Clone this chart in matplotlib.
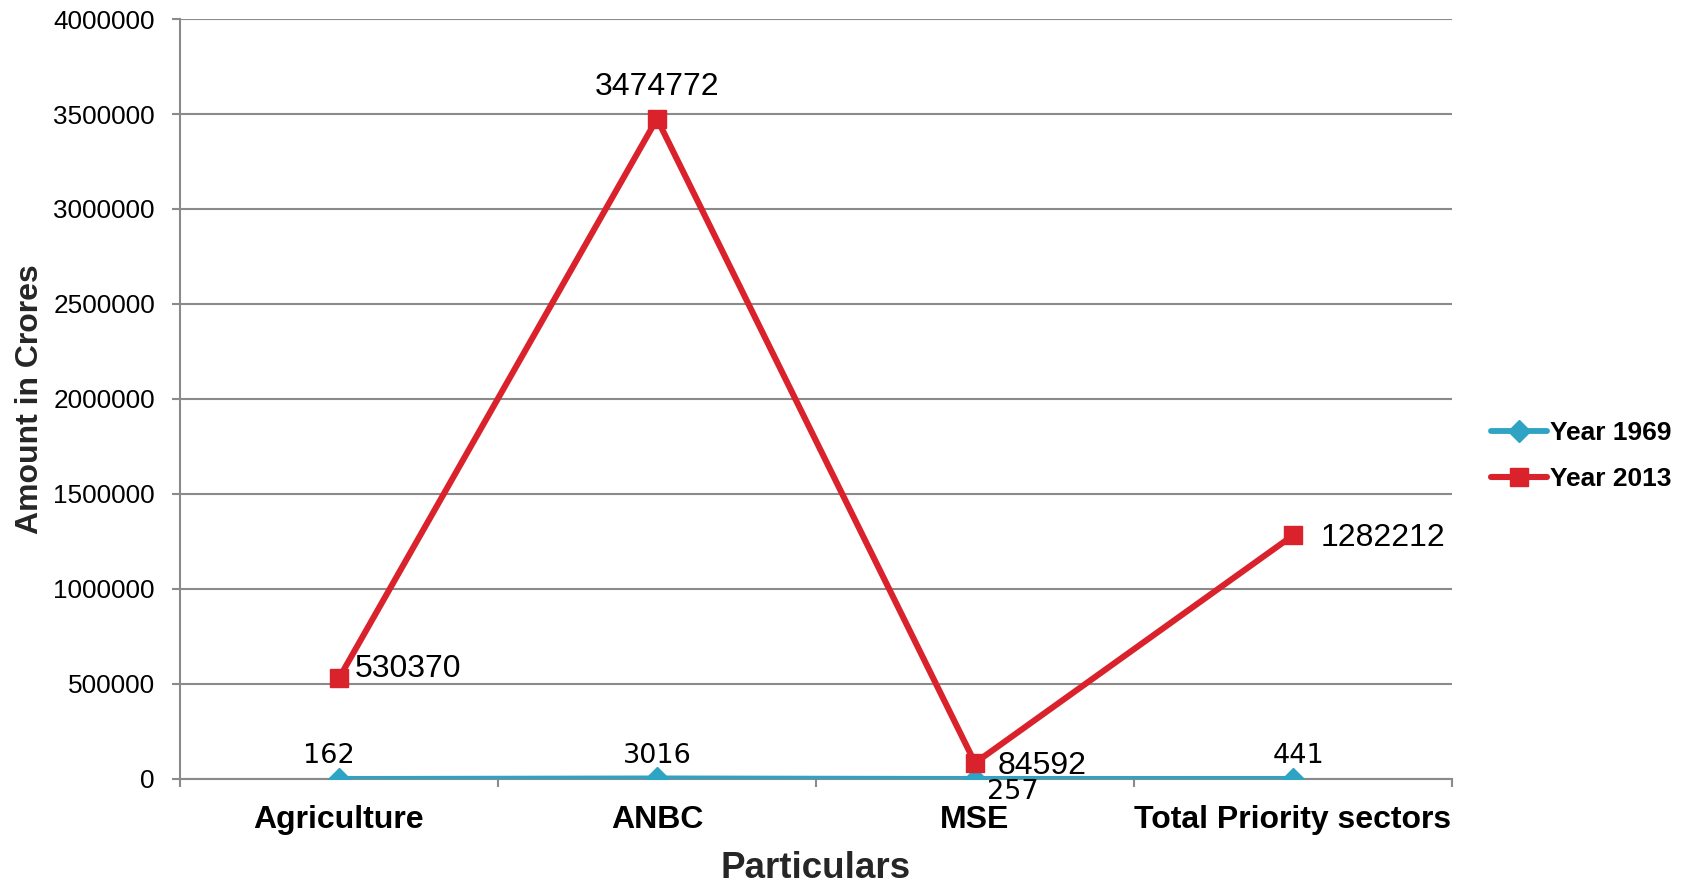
import matplotlib

matplotlib.use("Agg")
import matplotlib.pyplot as plt
from matplotlib.ticker import FixedLocator

# priority sector lending, amounts in crores
categories = ["Agriculture", "ANBC", "MSE", "Total Priority sectors"]
year_1969 = [162, 3016, 257, 441]
year_2013 = [530370, 3474772, 84592, 1282212]
y_ticks = [0, 500000, 1000000, 1500000, 2000000, 2500000, 3000000, 3500000, 4000000]

TEAL = "#2EA3C4"
RED = "#DA222C"
GRID = "#8A8A8A"

# label offsets in points: (dx, dy, ha, va)
offsets_1969 = [(-7, 7, "center", "bottom"), (0, 7, "center", "bottom"),
                (27, 0, "center", "top"), (4, 7, "center", "bottom")]
offsets_2013 = [(11, 1, "left", "baseline"), (0, 17, "center", "baseline"),
                (16, -8, "left", "baseline"), (20, -8, "left", "baseline")]

plt.rcParams.update({"font.family": ["Liberation Sans", "DejaVu Sans"]})

fig = plt.figure(figsize=(16.9, 8.84), dpi=100)
fig.set_facecolor("white")
ax = fig.add_axes([0.1065, 0.1188, 0.7527, 0.8597])

x = [i + 0.5 for i in range(len(categories))]

ax.plot(x, year_1969, color=TEAL, lw=4.2, marker="D", ms=11, mfc=TEAL,
        mec=TEAL, mew=1, solid_capstyle="round", label="Year 1969", zorder=3)
ax.plot(x, year_2013, color=RED, lw=4.4, marker="s", ms=13.5, mfc=RED,
        mec=RED, mew=1, solid_capstyle="round", label="Year 2013", zorder=4)

for xi, v, (dx, dy, ha, va) in zip(x, year_1969, offsets_1969):
    ax.annotate(str(v), (xi, v), xytext=(dx, dy), textcoords="offset points",
                ha=ha, va=va, fontsize=19.5, family="DejaVu Sans", color="black", zorder=5)
for xi, v, (dx, dy, ha, va) in zip(x, year_2013, offsets_2013):
    ax.annotate(str(v), (xi, v), xytext=(dx, dy), textcoords="offset points",
                ha=ha, va=va, fontsize=23, color="black", zorder=5)

ax.set_xlim(0, len(categories))
ax.set_ylim(0, 4000000)
ax.set_yticks(y_ticks)
ax.set_yticklabels([str(t) for t in y_ticks], fontsize=18.8)
ax.set_xticks(x)
ax.set_xticklabels(categories, fontsize=23, fontweight="bold")
ax.xaxis.set_minor_locator(FixedLocator(range(len(categories) + 1)))
ax.tick_params(axis="x", which="major", length=0, pad=18.5)
ax.tick_params(axis="x", which="minor", length=6, width=1.5, color=GRID, direction="out")
ax.tick_params(axis="y", which="major", length=6, width=1.5, color=GRID, pad=12)

ax.grid(axis="y", color=GRID, lw=1.5, zorder=0)
ax.set_axisbelow(True)
for side in ("top", "right"):
    ax.spines[side].set_visible(False)
for side in ("left", "bottom"):
    ax.spines[side].set_color(GRID)
    ax.spines[side].set_linewidth(1.5)
ax.spines["bottom"].set_zorder(1)

ax.set_xlabel("Particulars", fontsize=26.5, fontweight="bold", color="#262626", labelpad=12)
ax.set_ylabel("Amount in Crores", fontsize=23, fontweight="bold", color="#262626", labelpad=6)

fig.legend(loc="center left", bbox_to_anchor=(0.8825, 0.484), frameon=False,
           prop={"weight": "bold", "size": 19}, handlelength=2.1,
           handletextpad=0.12, borderpad=0, borderaxespad=0, labelspacing=0.82)

fig.savefig("out.png", dpi=100, facecolor="white")
